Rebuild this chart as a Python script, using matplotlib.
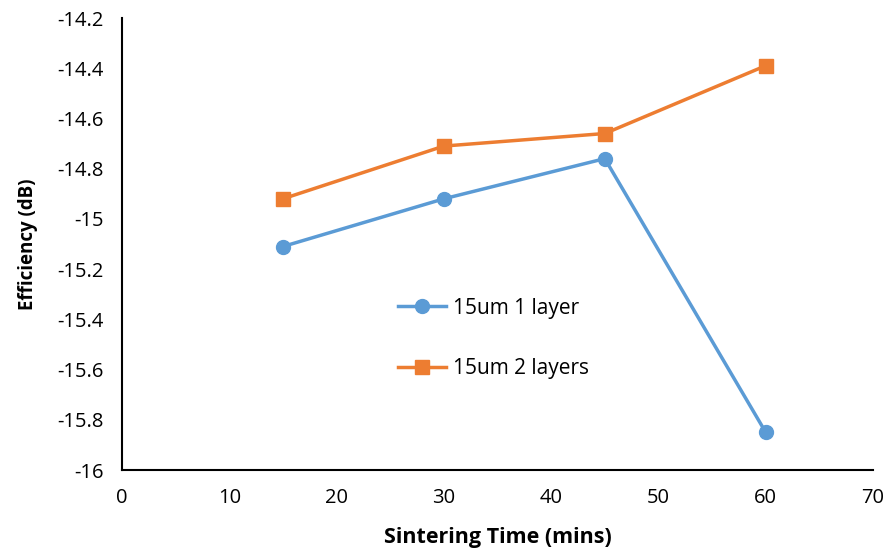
import matplotlib.pyplot as plt

# Sintering time vs efficiency data
sintering_time = [15, 30, 45, 60]
eff_1_layer = [-15.11, -14.92, -14.76, -15.85]
eff_2_layers = [-14.92, -14.71, -14.66, -14.39]

plt.rcParams['font.family'] = ['Open Sans', 'DejaVu Sans']

fig = plt.figure(figsize=(8.89, 5.53), dpi=100)
ax = fig.add_axes([122 / 889, 1 - 470 / 553, (873 - 122) / 889, (470 - 18) / 553])

ax.plot(sintering_time, eff_1_layer, marker='o', markersize=10, linewidth=2.5,
        color='#5B9BD5', label='15um 1 layer')
ax.plot(sintering_time, eff_2_layers, marker='s', markersize=10, linewidth=2.5,
        color='#ED7D31', label='15um 2 layers')

ax.set_xlim(0, 70)
ax.set_ylim(-16, -14.2)
ax.set_xticks(range(0, 71, 10))
ax.set_yticks([-16, -15.8, -15.6, -15.4, -15.2, -15, -14.8, -14.6, -14.4, -14.2])
ax.set_yticklabels(['-16', '-15.8', '-15.6', '-15.4', '-15.2', '-15', '-14.8',
                    '-14.6', '-14.4', '-14.2'])
ax.tick_params(length=0, labelsize=14.5, pad=13)

for s in ['top', 'right']:
    ax.spines[s].set_visible(False)
for s in ['left', 'bottom']:
    ax.spines[s].set_linewidth(1.5)
    ax.spines[s].set_color('black')

ax.set_xlabel('Sintering Time (mins)', fontsize=15.5, fontweight='bold', labelpad=14)
ax.set_ylabel('Efficiency (dB)', fontsize=13.5, fontweight='bold', labelpad=14)

ax.legend(loc='center left', bbox_to_anchor=(0.343, 0.291), frameon=False,
          fontsize=15, labelspacing=1.9, handlelength=2.3, handletextpad=0.3)

plt.savefig('out.png', dpi=100)
